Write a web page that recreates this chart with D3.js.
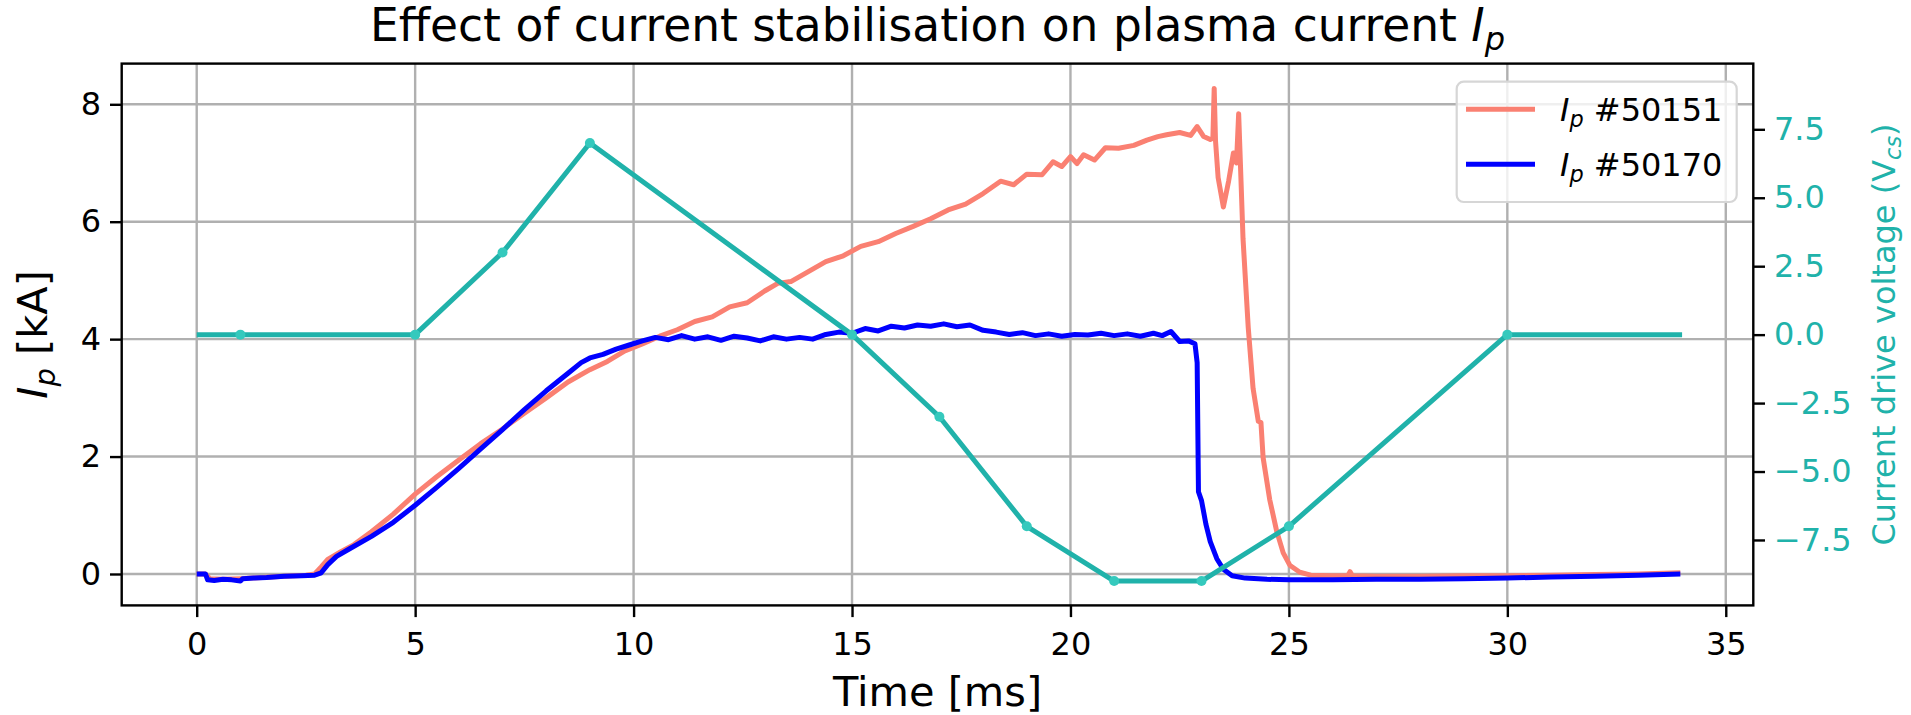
<!DOCTYPE html>
<html lang="en">
<head>
<meta charset="utf-8">
<style>
  body { margin: 0; background: white; }
  svg { font-family: 'DejaVu Sans'; background: white; }
  .grid line { stroke: #b0b0b0; stroke-width: 2.4; }
  .axis line { stroke: black; stroke-width: 2.4; }
  .axis text { font-size: 32px; fill: black; font-family: 'DejaVu Sans'; }
  .axis.right text { fill: #20b2aa; }
  path.trace { fill: none; stroke-width: 5; stroke-linejoin: round; }
  .label { font-size: 41.5px; }
</style>
</head>
<body>
<svg width="1911" height="715"></svg>
<script src="https://d3js.org/d3.v7.min.js"></script>
<script>
// tick values
const timeTicks = [0, 5, 10, 15, 20, 25, 30, 35]
const ipTicks = [0, 2, 4, 6, 8]
const vcsTicks = [-7.5, -5, -2.5, 0, 2.5, 5, 7.5]

// current drive voltage programme (ms, V)
const vcsTime = [0, 1, 5, 7, 9, 15, 17, 19, 21, 23, 25, 30, 34]
const vcsVolt = [0, 0, 0, 3, 7, 0, -3, -7, -9, -9, -7, 0, 0]

// plasma current, shot #50151 (ms, kA)
const ip50151 = [
  [0,0],[0.2,0],[0.3,-0.08],[0.6,-0.09],[1.0,-0.08],[1.5,-0.06],[2.0,-0.04],[2.5,-0.02],[2.7,0.0],
  [2.85,0.12],[3.0,0.25],[3.3,0.38],[3.6,0.5],[4.0,0.72],[4.5,1.02],[5.0,1.36],[5.5,1.66],[6.0,1.94],
  [6.5,2.22],[7.0,2.47],[7.5,2.74],[8.0,3.0],[8.5,3.27],[9.0,3.48],[9.4,3.62],[9.8,3.8],[10.2,3.92],
  [10.6,4.05],[11.0,4.16],[11.4,4.3],[11.8,4.38],[12.2,4.55],[12.6,4.62],[13.0,4.82],[13.3,4.95],
  [13.6,4.98],[14.0,5.15],[14.4,5.32],[14.8,5.42],[15.2,5.58],[15.6,5.66],[16.0,5.8],[16.4,5.92],
  [16.8,6.05],[17.2,6.2],[17.6,6.3],[18.0,6.48],[18.4,6.69],[18.7,6.63],[19.0,6.81],[19.35,6.8],
  [19.6,7.02],[19.8,6.94],[20.0,7.11],[20.15,6.99],[20.3,7.14],[20.55,7.05],[20.8,7.26],[21.1,7.25],
  [21.45,7.3],[21.75,7.39],[22.0,7.45],[22.2,7.48],[22.5,7.52],[22.75,7.47],[22.9,7.62],[23.05,7.45],
  [23.2,7.4],[23.26,7.42],[23.29,8.27],[23.32,7.38],[23.38,6.75],[23.5,6.25],[23.62,6.69],[23.73,7.17],
  [23.8,7.0],[23.85,7.84],[23.89,6.99],[23.95,5.71],[24.07,4.19],[24.18,3.16],[24.3,2.6],[24.36,2.58],
  [24.41,1.98],[24.56,1.27],[24.72,0.73],[24.87,0.36],[25.02,0.15],[25.25,0.03],[25.5,-0.02],[26.0,-0.03],
  [26.35,-0.03],[26.4,0.04],[26.45,-0.03],[27,-0.04],[28,-0.04],[29,-0.03],[30,-0.03],[31,-0.02],
  [32,-0.01],[33,0.0],[33.96,0.02]
]

// plasma current, shot #50170 (ms, kA)
const ip50170 = [
  [0,0],[0.2,0],[0.25,-0.1],[0.4,-0.11],[0.6,-0.09],[0.8,-0.1],[1.0,-0.12],[1.05,-0.08],[1.3,-0.07],
  [1.6,-0.06],[2.0,-0.04],[2.4,-0.03],[2.7,-0.02],[2.85,0.02],[3.0,0.16],[3.2,0.3],[3.5,0.43],[4.0,0.64],
  [4.5,0.88],[5.0,1.17],[5.5,1.48],[6.0,1.8],[6.5,2.13],[7.0,2.46],[7.5,2.8],[8.0,3.12],[8.5,3.42],
  [8.8,3.6],[9.0,3.68],[9.3,3.74],[9.6,3.83],[9.9,3.9],[10.2,3.97],[10.5,4.03],[10.8,3.99],[11.1,4.06],
  [11.4,4.0],[11.7,4.04],[12.0,3.98],[12.3,4.05],[12.6,4.02],[12.9,3.97],[13.2,4.04],[13.5,4.0],
  [13.8,4.03],[14.1,4.0],[14.4,4.08],[14.7,4.12],[15.0,4.1],[15.3,4.18],[15.6,4.14],[15.9,4.22],
  [16.2,4.19],[16.5,4.24],[16.8,4.22],[17.1,4.26],[17.4,4.21],[17.7,4.24],[18.0,4.15],[18.3,4.12],
  [18.6,4.08],[18.9,4.11],[19.2,4.06],[19.5,4.09],[19.8,4.05],[20.1,4.08],[20.4,4.07],[20.7,4.1],
  [21.0,4.06],[21.3,4.09],[21.6,4.05],[21.9,4.1],[22.1,4.06],[22.3,4.13],[22.5,3.96],[22.7,3.97],
  [22.85,3.92],[22.9,3.6],[22.93,1.4],[23.0,1.25],[23.1,0.85],[23.2,0.55],[23.35,0.26],[23.5,0.08],
  [23.7,-0.03],[24.0,-0.07],[24.5,-0.09],[25,-0.1],[26,-0.1],[27,-0.09],[28,-0.09],[29,-0.08],
  [30,-0.07],[31,-0.05],[32,-0.04],[33,-0.02],[33.96,0.0]
]

const seriesNames = ['#50151', '#50170']
const seriesColors = ['#fa8072', '#0000ff']
const vcsColor = '#20b2aa'

const width = 1911
const height = 715
const margin = { top: 63.6, bottom: 109.6, left: 121.7, right: 157.7 }
const plotW = width - margin.left - margin.right
const plotH = height - margin.top - margin.bottom

const svg = d3.select('svg')

const x = d3.scaleLinear().domain([-1.717, 35.63]).range([margin.left, width - margin.right])
const yL = d3.scaleLinear().domain([-0.535, 8.693]).range([height - margin.bottom, margin.top])
const yR = d3.scaleLinear().domain([-9.89, 9.9]).range([height - margin.bottom, margin.top])

// grid (left axis only)
const grid = svg.append('g').attr('class', 'grid')
grid.selectAll('line.gx').data(timeTicks).enter().append('line')
  .attr('x1', d => x(d)).attr('x2', d => x(d))
  .attr('y1', margin.top).attr('y2', height - margin.bottom)
grid.selectAll('line.gy').data(ipTicks).enter().append('line')
  .attr('x1', margin.left).attr('x2', width - margin.right)
  .attr('y1', d => yL(d)).attr('y2', d => yL(d))

// plasma current traces
const ipLine = d3.line().x(d => x(d[0])).y(d => yL(d[1]))
;[ip50151, ip50170].forEach((data, i) => {
  svg.append('path').attr('class', 'trace')
    .attr('d', ipLine(data))
    .attr('stroke', seriesColors[i])
})

// legend
const legend = svg.append('g').attr('class', 'legend')
legend.append('rect')
  .attr('x', 1456.7).attr('y', 81.7).attr('width', 280).attr('height', 120.3)
  .attr('rx', 7).attr('fill', 'white').attr('fill-opacity', 0.8)
  .attr('stroke', '#d6d6d6').attr('stroke-width', 2.2)
seriesNames.forEach((name, i) => {
  const ly = 109.3 + i * 55
  legend.append('line')
    .attr('x1', 1466).attr('x2', 1535).attr('y1', ly).attr('y2', ly)
    .attr('stroke', seriesColors[i]).attr('stroke-width', 5)
  const t = legend.append('text').attr('x', 1560).attr('y', ly + 12)
    .attr('font-size', 32)
  t.append('tspan').attr('font-style', 'italic').text('I')
  t.append('tspan').attr('font-style', 'italic').attr('font-size', 22.4).attr('dy', 6).text('p')
  t.append('tspan').attr('dy', -6).text(' ' + name)
})

// voltage programme on the twin axis
const vcsPts = vcsTime.map((t, i) => [t, vcsVolt[i]])
const vLine = d3.line().x(d => x(d[0])).y(d => yR(d[1]))
svg.append('path').attr('class', 'trace')
  .attr('d', vLine(vcsPts))
  .attr('stroke', vcsColor).attr('stroke-width', 4.4)
svg.selectAll('circle.vcs').data(vcsPts.slice(1, -1)).enter().append('circle')
  .attr('class', 'vcs')
  .attr('cx', d => x(d[0])).attr('cy', d => yR(d[1])).attr('r', 5)
  .attr('fill', '#35c9bd')

// axes
const fmtR = d => d3.format('.1f')(d).replace('-', '\u2212')
svg.append('g').attr('class', 'axis x')
  .attr('transform', 'translate(0,' + (height - margin.bottom) + ')')
  .call(d3.axisBottom(x).tickValues(timeTicks).tickSize(11.7).tickPadding(15.5))
  .call(g => g.select('.domain').remove())
svg.append('g').attr('class', 'axis left')
  .attr('transform', 'translate(' + margin.left + ',0)')
  .call(d3.axisLeft(yL).tickValues(ipTicks).tickSize(11.7).tickPadding(9))
  .call(g => g.select('.domain').remove())
svg.append('g').attr('class', 'axis right')
  .attr('transform', 'translate(' + (width - margin.right) + ',0)')
  .call(d3.axisRight(yR).tickValues(vcsTicks).tickFormat(fmtR).tickSize(11.7).tickPadding(9))
  .call(g => g.select('.domain').remove())

// spines
svg.append('rect')
  .attr('x', margin.left).attr('y', margin.top).attr('width', plotW).attr('height', plotH)
  .attr('fill', 'none').attr('stroke', 'black').attr('stroke-width', 2.4)

// title
const title = svg.append('text')
  .attr('x', margin.left + plotW / 2).attr('y', 41)
  .attr('text-anchor', 'middle').attr('font-size', 45.5)
title.append('tspan').text('Effect of current stabilisation on plasma current ')
title.append('tspan').attr('font-style', 'italic').text('I')
title.append('tspan').attr('font-style', 'italic').attr('font-size', 32).attr('dy', 9).text('p')

// axis labels
svg.append('text').attr('class', 'label')
  .attr('x', margin.left + plotW / 2).attr('y', 706)
  .attr('text-anchor', 'middle').text('Time [ms]')

const yLab = svg.append('text').attr('class', 'label')
  .attr('transform', 'translate(47,' + (margin.top + plotH / 2) + ') rotate(-90)')
  .attr('text-anchor', 'middle')
yLab.append('tspan').attr('font-style', 'italic').text('I')
yLab.append('tspan').attr('font-style', 'italic').attr('font-size', 29).attr('dy', 8).text('p')
yLab.append('tspan').attr('dy', -8).text(' [kA]')

const rLab = svg.append('text')
  .attr('transform', 'translate(1895,' + (margin.top + plotH / 2) + ') rotate(-90)')
  .attr('text-anchor', 'middle').attr('font-size', 32).attr('fill', vcsColor)
rLab.append('tspan').text('Current drive voltage (V')
rLab.append('tspan').attr('font-style', 'italic').attr('font-size', 22.4).attr('dy', 6).text('cs')
rLab.append('tspan').attr('dy', -6).text(')')
</script>
</body>
</html>
